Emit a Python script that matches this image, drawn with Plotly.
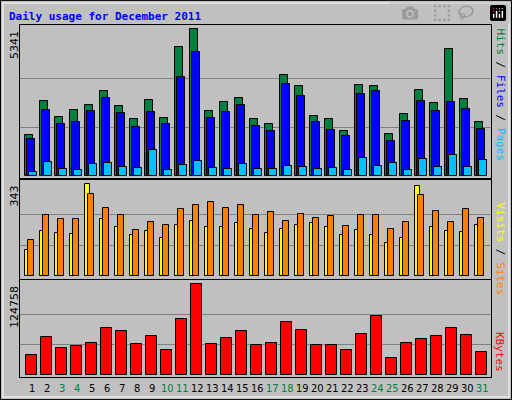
import plotly.graph_objects as go

days = list(range(1, 32))
hits = [1490,2737,2144,2410,2592,3100,2555,2083,2773,2119,4687,5341,2374,2701,2834,2083,1901,3669,3282,2180,2083,1647,3318,3282,1538,2265,3136,2664,4614,2810,1974]
files = [1356,2410,1901,1974,2374,2846,2301,1792,2337,1901,3609,4517,2119,2337,2592,1829,1647,3354,2919,1974,1683,1465,2991,3100,1284,2010,2737,2374,2701,2446,1720]
pages = [157,521,266,230,448,484,339,303,957,230,412,557,303,266,448,266,266,375,339,266,303,230,666,375,484,230,630,339,775,339,593]
visits = [97,168,160,157,343,213,183,153,168,142,190,205,183,183,198,175,160,175,190,198,183,153,172,153,123,142,336,183,168,164,190]
sites = [134,227,213,213,306,254,227,172,201,190,250,265,276,254,265,227,239,205,231,216,224,186,227,227,175,201,302,242,201,250,216]
kbytes = [27420,52100,37020,39760,43870,64440,60320,42500,53470,34280,76780,124758,42500,50730,60320,41130,43870,72660,61700,41130,41130,34280,56210,80890,23310,43870,49360,53470,64440,54840,31530]
weekends = [3,4,10,11,17,18,24,25,31]

W, H = 512, 400
def py(y): return (H - y) / H
def px(x): return x / W

fig = go.Figure()
line = dict(color="black", width=1)
def bar(vals, color, off, wid, ax):
    fig.add_trace(go.Bar(x=days, y=vals, offset=off, width=wid, marker=dict(color=color, line=line),
                         xaxis="x" if ax == "" else "x"+ax, yaxis="y"+ax, showlegend=False, hoverinfo="y"))
bar(hits, "#008040", -0.47, 0.52, "")
bar(files, "#0000FF", -0.33, 0.53, "")
bar(pages, "#00C0FF", -0.18, 0.50, "")
bar(visits, "#FFFF00", -0.47, 0.33, "2")
bar(sites, "#FF8000", -0.25, 0.36, "2")
bar(kbytes, "#FF0000", -0.38, 0.69, "3")

xr = [0.2, 31.6]
xd = [px(20), px(491)]
xa = dict(range=xr, domain=xd, showticklabels=False, showgrid=False, zeroline=False, ticks="",
          showline=True, linecolor="black", mirror=True, fixedrange=True)
ga = dict(showticklabels=False, ticks="", gridcolor="#808080", zeroline=False,
          showline=True, linecolor="black", mirror=True, fixedrange=True)
fig.update_layout(
    width=W, height=H, margin=dict(l=0, r=0, t=0, b=0),
    paper_bgcolor="#C0C0C0", plot_bgcolor="#C0C0C0", barmode="overlay", bargap=0,
    xaxis=dict(xa, anchor="y"), xaxis2=dict(xa, anchor="y2"), xaxis3=dict(xa, anchor="y3"),
    yaxis=dict(ga, domain=[py(178), py(25)], range=[-62, 5497], tickvals=[1780, 3561], anchor="x"),
    yaxis2=dict(ga, domain=[py(279), py(180)], range=[-10, 359], tickvals=[114, 229], anchor="x2"),
    yaxis3=dict(ga, domain=[py(377), py(280)], range=[-2330, 130650], tickvals=[41586, 83172], anchor="x3"),
    font=dict(family="DejaVu Sans", size=11, color="black"),
)
ann = []
ann.append(dict(x=px(7), y=py(16), xref="paper", yref="paper", xanchor="left", yanchor="middle", showarrow=False,
                text="<b>Daily usage for December 2011</b>", font=dict(family="DejaVu Sans Mono", size=11, color="#0000FF")))
for v, y in [("5341", 29), ("343", 184), ("124758", 284)]:
    ann.append(dict(x=px(14), y=py(y), xref="paper", yref="paper", xanchor="center", yanchor="top", showarrow=False,
                    text=v, textangle=-90, font=dict(size=11)))
mono = dict(family="DejaVu Sans Mono", size=11)
ann.append(dict(x=px(500), y=py(26), xref="paper", yref="paper", xanchor="center", yanchor="top", showarrow=False, textangle=90, font=mono,
                text="<span style='color:#008040'>Hits</span><span style='color:black'> / </span><span style='color:#0000FF'>Files</span><span style='color:black'> / </span><span style='color:#00C0FF'>Pages</span>"))
ann.append(dict(x=px(500), y=py(200), xref="paper", yref="paper", xanchor="center", yanchor="top", showarrow=False, textangle=90, font=mono,
                text="<span style='color:#FFFF00'>Visits</span><span style='color:black'> / </span><span style='color:#FF8000'>Sites</span>"))
ann.append(dict(x=px(500), y=py(330), xref="paper", yref="paper", xanchor="center", yanchor="top", showarrow=False, textangle=90, font=mono,
                text="<span style='color:#FF0000'>KBytes</span>"))
for d in days:
    ann.append(dict(x=d, y=py(388), xref="x3", yref="paper", xanchor="center", yanchor="middle", showarrow=False,
                    text=str(d), font=dict(family="Liberation Sans Narrow, DejaVu Sans Condensed", size=11,
                                           color="#008040" if d in weekends else "black")))
fig.update_layout(annotations=ann)
fig.add_shape(type="rect", xref="paper", yref="paper", x0=0.001, y0=0.001, x1=0.999, y1=0.999, line=dict(color="black", width=1))
fig.add_shape(type="rect", xref="paper", yref="paper", x0=px(3), y0=py(397), x1=px(509), y1=py(3), line=dict(color="white", width=1))
fig.write_html("out.html", post_script="document.body.style.margin='0';document.body.style.overflow='hidden';")
